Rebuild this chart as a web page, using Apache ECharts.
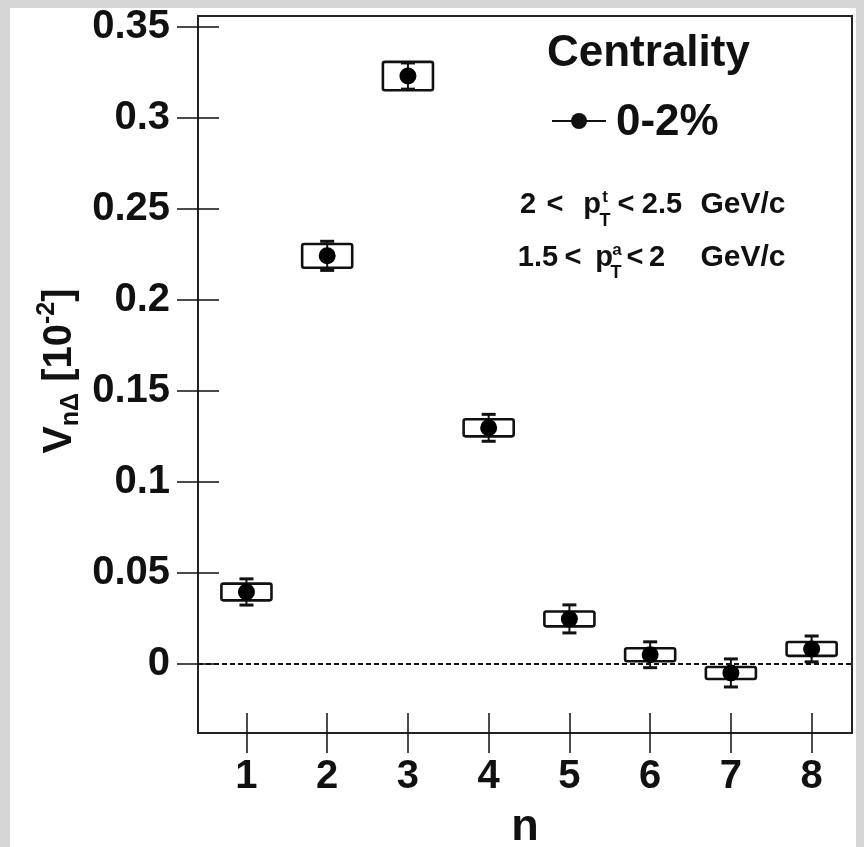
<!DOCTYPE html>
<html>
<head>
<meta charset="utf-8">
<script src="https://cdn.jsdelivr.net/npm/echarts@6/dist/echarts.min.js"></script>
<style>
  html, body { margin: 0; padding: 0; background: #fff; }
  #chart { width: 864px; height: 847px; }
</style>
</head>
<body>
<div id="chart"></div>
<script>
// harmonic order n
const nValues = [1, 2, 3, 4, 5, 6, 7, 8];
// V_nΔ [10^-2], 0-2% centrality
const vValues = [0.0395, 0.2242, 0.323, 0.1297, 0.0247, 0.005, -0.005, 0.0082];
const statErr = [0.0072, 0.008, 0.0072, 0.0074, 0.0077, 0.0071, 0.0077, 0.0071];
const systErr = [0.0046, 0.0065, 0.0078, 0.0047, 0.0041, 0.0036, 0.0033, 0.0038];
// axis ticks
const xTicks = [1, 2, 3, 4, 5, 6, 7, 8];
const yTicks = [0, 0.05, 0.1, 0.15, 0.2, 0.25, 0.3, 0.35];
const yTickLabels = ['0', '0.05', '0.1', '0.15', '0.2', '0.25', '0.3', '0.35'];

const FONT = '"Liberation Sans", Arial, Helvetica, sans-serif';
const INK = '#111';
const BOX_HALF = 0.31; // half width of syst box in n units

const chart = echarts.init(document.getElementById('chart'));

// measure text so pieces with sub/superscripts can be laid out one after another
const ctx = document.createElement('canvas').getContext('2d');
function textWidth(str, size) {
  ctx.font = 'bold ' + size + 'px ' + FONT;
  return ctx.measureText(str).width;
}

function txt(text, x, y, size, align) {
  return {
    type: 'text', x: x, y: y, silent: true,
    style: {
      text: text, fill: INK, font: 'bold ' + size + 'px ' + FONT,
      align: align || 'left', verticalAlign: 'middle'
    }
  };
}

// y axis title: V_{nΔ} [10^{-2}], drawn rotated
const yTitleParts = [
  { t: 'V', s: 41, dy: 0 },
  { t: 'nΔ', s: 25, dy: 11 },
  { t: ' [10', s: 40, dy: 0 },
  { t: '-2', s: 25, dy: -13 },
  { t: ']', s: 40, dy: 0 }
];
let total = 0;
yTitleParts.forEach(p => { p.w = textWidth(p.t, p.s); total += p.w; });
let cx = -total / 2;
const yTitleChildren = yTitleParts.map(p => {
  const el = txt(p.t, cx, p.dy, p.s);
  cx += p.w;
  return el;
});

function tickFmt(v) {
  let best = 0;
  yTicks.forEach((t, i) => { if (Math.abs(t - v) < Math.abs(yTicks[best] - v)) best = i; });
  return yTickLabels[best];
}

function renderErr(params, api) {
  const x = api.value(0), y = api.value(1), stat = api.value(2), syst = api.value(3);
  const c = api.coord([x, y]);
  const hi = api.coord([x, y + stat]);
  const lo = api.coord([x, y - stat]);
  const bl = api.coord([x - BOX_HALF, y - syst]);
  const tr = api.coord([x + BOX_HALF, y + syst]);
  return {
    type: 'group',
    children: [
      { type: 'rect', shape: { x: bl[0], y: tr[1], width: tr[0] - bl[0], height: bl[1] - tr[1], r: 2 },
        style: { fill: 'none', stroke: INK, lineWidth: 2.6 } },
      { type: 'line', shape: { x1: c[0], y1: hi[1], x2: c[0], y2: lo[1] },
        style: { stroke: INK, lineWidth: 2 } },
      { type: 'line', shape: { x1: c[0] - 7, y1: hi[1], x2: c[0] + 7, y2: hi[1] },
        style: { stroke: INK, lineWidth: 3 } },
      { type: 'line', shape: { x1: c[0] - 7, y1: lo[1], x2: c[0] + 7, y2: lo[1] },
        style: { stroke: INK, lineWidth: 3 } }
    ]
  };
}

const xMin = 0.4, xMax = 8.5, yMin = -0.038, yMax = 0.356;

function xAxisDef(inside) {
  return {
    type: 'value', min: xMin, max: xMax, position: 'bottom',
    axisLine: { show: false, onZero: false },
    splitLine: { show: false },
    axisTick: { show: true, inside: inside, length: 20, customValues: xTicks,
      lineStyle: { color: INK, width: 1.5 } },
    axisLabel: inside ? { show: false } : {
      show: true, customValues: xTicks, margin: 24, color: INK,
      fontSize: 40, fontWeight: 'bold', fontFamily: FONT
    },
    name: inside ? '' : 'n', nameLocation: 'middle', nameGap: 72,
    nameTextStyle: { fontSize: 45, fontWeight: 'bold', fontFamily: FONT, color: INK }
  };
}
function yAxisDef(inside) {
  return {
    type: 'value', min: yMin, max: yMax, position: 'left',
    axisLine: { show: false, onZero: false },
    splitLine: { show: false },
    axisTick: { show: true, inside: inside, length: 21, customValues: yTicks,
      lineStyle: { color: INK, width: 1.5 } },
    axisLabel: inside ? { show: false } : {
      show: true, customValues: yTicks, margin: 28, color: INK, formatter: tickFmt,
      fontSize: 40, fontWeight: 'bold', fontFamily: FONT
    }
  };
}

const errData = nValues.map((n, i) => [n, vValues[i], statErr[i], systErr[i]]);
const pointData = nValues.map((n, i) => [n, vValues[i]]);

chart.setOption({
  animation: false,
  backgroundColor: '#fff',
  grid: {
    left: 198, right: 12, top: 16, bottom: 114,
    show: true, borderColor: '#222', borderWidth: 2, backgroundColor: 'transparent',
    containLabel: false, outerBoundsMode: 'none'
  },
  xAxis: [xAxisDef(false), xAxisDef(true)],
  yAxis: [yAxisDef(false), yAxisDef(true)],
  graphic: [
    // grey screenshot margins
    { type: 'rect', shape: { x: 0, y: 0, width: 10, height: 847 }, style: { fill: '#d6d6d6' }, silent: true },
    { type: 'rect', shape: { x: 0, y: 0, width: 864, height: 8 }, style: { fill: '#d6d6d6' }, silent: true },
    { type: 'rect', shape: { x: 856, y: 0, width: 8, height: 847 }, style: { fill: '#d6d6d6' }, silent: true },
    { type: 'group', x: 60, y: 371, rotation: Math.PI / 2, children: yTitleChildren },
    // legend block
    txt('Centrality', 547, 54, 44),
    { type: 'line', shape: { x1: 552, y1: 121, x2: 606, y2: 121 }, style: { stroke: INK, lineWidth: 2 }, silent: true },
    { type: 'circle', shape: { cx: 579, cy: 121, r: 8 }, style: { fill: INK }, silent: true },
    txt('0-2%', 616, 123, 44),
    // 2 < p_T^t < 2.5 GeV/c
    txt('2', 528, 205, 29, 'center'), txt('<', 555, 205, 29, 'center'), txt('p', 592, 205, 29, 'center'),
    txt('t', 605, 197, 17, 'center'), txt('T', 605, 221, 18, 'center'),
    txt('<', 626, 205, 29, 'center'), txt('2.5', 662, 205, 29, 'center'), txt('GeV/c', 743, 205, 30, 'center'),
    // 1.5 < p_T^a < 2 GeV/c
    txt('1.5', 538, 258, 29, 'center'), txt('<', 573, 258, 29, 'center'), txt('p', 604, 258, 29, 'center'),
    txt('a', 617, 250, 17, 'center'), txt('T', 616, 273, 18, 'center'),
    txt('<', 635, 258, 29, 'center'), txt('2', 657, 258, 29, 'center'), txt('GeV/c', 743, 258, 30, 'center')
  ],
  series: [
    {
      type: 'custom', name: 'errors', renderItem: renderErr,
      data: errData, encode: { x: 0, y: 1 }, z: 3, silent: true
    },
    {
      type: 'scatter', name: '0-2%', data: pointData,
      symbol: 'circle', symbolSize: 17, itemStyle: { color: '#000', opacity: 1 }, z: 4, silent: true,
      markLine: {
        silent: true, symbol: ['none', 'none'], label: { show: false },
        lineStyle: { type: [5, 3], width: 1.8, color: INK, opacity: 1 },
        data: [{ yAxis: 0 }]
      }
    }
  ]
});
</script>
</body>
</html>
